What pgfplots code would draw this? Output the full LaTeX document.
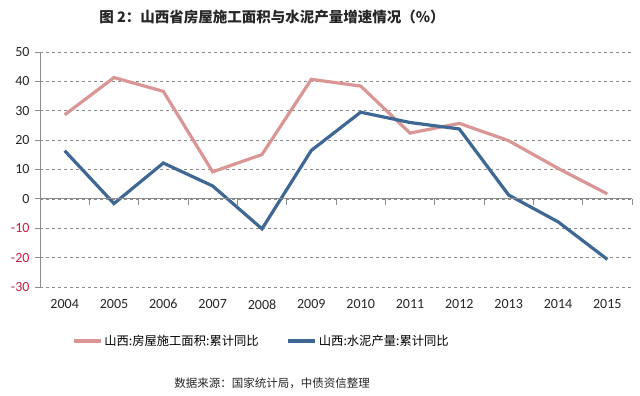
\documentclass[border=0pt]{standalone}
\usepackage{fontspec}
\setmainfont{Carlito}
\newfontfamily\cjk{Noto Sans CJK SC}
\usepackage{pgfplots}
\pgfplotsset{compat=1.18}
\definecolor{pinkline}{RGB}{217,150,148}
\definecolor{blueline}{RGB}{62,103,148}
\definecolor{negred}{RGB}{200,30,60}
\definecolor{axgray}{RGB}{140,140,140}
\begin{document}
\begin{tikzpicture}
\useasboundingbox (0,0) rectangle (640pt,396pt);
\begin{axis}[
  at={(40pt,109pt)}, anchor=south west,
  width=592pt, height=235pt, scale only axis,
  xmin=-0.5, xmax=11.5, ymin=-30, ymax=50,
  axis y line*=left, axis x line*=bottom,
  x axis line style={draw=none},
  y axis line style={axgray, line width=0.8pt},
  xtick={0,...,11},
  xticklabels={2004,2005,2006,2007,2008,2009,2010,2011,2012,2013,2014,2015},
  xtick style={draw=none},
  ytick={-30,-20,-10,0,10,20,30,40,50},
  yticklabels={\textcolor{negred}{-30},\textcolor{negred}{-20},\textcolor{negred}{-10},0,10,20,30,40,50},
  ytick style={axgray, line width=0.8pt},
  tick align=outside, major tick length=5pt,
  ymajorgrids, grid style={dashed, axgray, line width=0.6pt},
  every tick label/.append style={font=\fontsize{14}{16}\selectfont, text=black!85},
  xticklabel style={yshift=-4pt},
  yticklabel style={xshift=-2pt},
  legend style={at={(0.374,-0.23)}, anchor=center, draw=none, fill=none,
    legend columns=2, font=\cjk\fontsize{12.3}{14}\selectfont,
    /tikz/every even column/.append style={column sep=26pt}},
  legend image code/.code={\draw[#1] (0pt,0pt) -- (27pt,0pt);},
  clip=false,
]
\addplot[pinkline, line width=3.2pt] coordinates {
(0,28.6) (1,41.3) (2,36.6) (3,9.2) (4,15.1) (5,40.7) (6,38.4) (7,22.4) (8,25.7) (9,19.8) (10,10.4) (11,1.7)};
\addlegendentry{山西:房屋施工面积:累计同比}
\addplot[blueline, line width=3.2pt] coordinates {
(0,16.4) (1,-1.6) (2,12.2) (3,4.4) (4,-10.2) (5,16.5) (6,29.5) (7,26.0) (8,23.8) (9,1.3) (10,-7.8) (11,-20.6)};
\addlegendentry{山西:水泥产量:累计同比}
\end{axis}
\begin{axis}[
  at={(40pt,109pt)}, anchor=south west,
  width=592pt, height=235pt, scale only axis,
  xmin=-0.5, xmax=11.5, ymin=-30, ymax=50,
  axis x line=middle, axis y line=none,
  axis line style={-, axgray, line width=0.8pt},
  xtick={-0.5,0.5,...,11.5}, xticklabels={},
  xtick style={axgray, line width=0.8pt, yshift=-3pt},
  major tick length=6pt,
]
\end{axis}
\node[font=\cjk\bfseries\fontsize{14.5}{16}\selectfont, text=black!85] at (272pt,379pt) {图 2：山西省房屋施工面积与水泥产量增速情况（\%）};
\node[font=\cjk\fontsize{11.5}{13}\selectfont, text=black!85] at (272pt,13pt) {数据来源：国家统计局，中债资信整理};
\end{tikzpicture}
\end{document}
